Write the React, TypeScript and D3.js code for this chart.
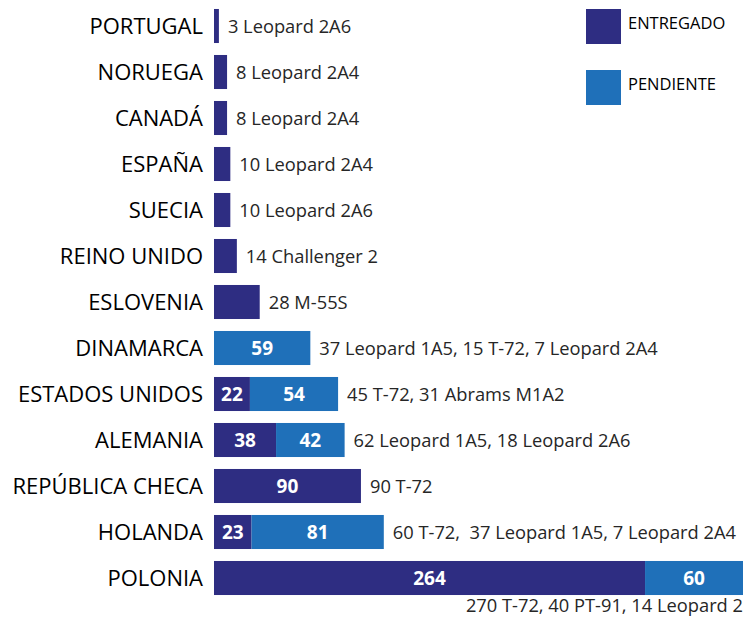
import * as d3 from 'd3';
import { useEffect, useRef } from 'react';

const countries = [
  'PORTUGAL',
  'NORUEGA',
  'CANADÁ',
  'ESPAÑA',
  'SUECIA',
  'REINO UNIDO',
  'ESLOVENIA',
  'DINAMARCA',
  'ESTADOS UNIDOS',
  'ALEMANIA',
  'REPÚBLICA CHECA',
  'HOLANDA',
  'POLONIA',
];
const entregado = [3, 8, 8, 10, 10, 14, 28, 0, 22, 38, 90, 23, 264];
const pendiente = [0, 0, 0, 0, 0, 0, 0, 59, 54, 42, 0, 81, 60];
const showInside = [false, false, false, false, false, false, false, true, true, true, true, true, true];
const notes = [
  '3 Leopard 2A6',
  '8 Leopard 2A4',
  '8 Leopard 2A4',
  '10 Leopard 2A4',
  '10 Leopard 2A6',
  '14 Challenger 2',
  '28 M-55S',
  '37 Leopard 1A5, 15 T-72, 7 Leopard 2A4',
  '45 T-72, 31 Abrams M1A2',
  '62 Leopard 1A5, 18 Leopard 2A6',
  '90 T-72',
  '60 T-72,  37 Leopard 1A5, 7 Leopard 2A4',
  '270 T-72, 40 PT-91, 14 Leopard 2',
];
const seriesNames = ['ENTREGADO', 'PENDIENTE'];
const colors = ['#2e2d82', '#1f70b9'];

const W = 747;
const H = 617;
const FONT = '"Open Sans", sans-serif';

export default function App() {
  const ref = useRef<SVGSVGElement>(null);

  useEffect(() => {
    const svg = d3.select(ref.current);
    svg.selectAll('*').remove();

    const x = d3.scaleLinear().domain([0, 324]).range([214, 743]);
    const y = d3
      .scaleBand()
      .domain(countries)
      .range([3, 3 + countries.length * 46])
      .paddingInner(0.26)
      .paddingOuter(0.13);

    const rows = countries.map((c, i) => ({
      c,
      i,
      segs: [
        { k: 0, x0: 0, x1: entregado[i], v: entregado[i] },
        { k: 1, x0: entregado[i], x1: entregado[i] + pendiente[i], v: pendiente[i] },
      ].filter((s) => s.v > 0),
    }));

    const g = svg.selectAll('g.row').data(rows).enter().append('g').attr('class', 'row');

    g.each(function (d) {
      const row = d3.select(this);
      row
        .selectAll('rect')
        .data(d.segs)
        .enter()
        .append('rect')
        .attr('x', (s) => x(s.x0))
        .attr('width', (s) => x(s.x1) - x(s.x0))
        .attr('y', y(d.c)!)
        .attr('height', y.bandwidth())
        .style('fill', (s) => colors[s.k]);

      // values inside bars
      if (!showInside[d.i]) return;
      row
        .selectAll('text.val')
        .data(d.segs)
        .enter()
        .append('text')
        .attr('class', 'val')
        .attr('x', (s) => (x(s.x0) + x(s.x1)) / 2)
        .attr('y', y(d.c)! + y.bandwidth() / 2)
        .attr('dy', '0.36em')
        .attr('text-anchor', 'middle')
        .style('font-family', FONT)
        .style('font-weight', 700)
        .style('font-size', '19px')
        .style('fill', '#fff')
        .text((s) => s.v);
    });

    // category labels
    svg
      .selectAll('text.cat')
      .data(countries)
      .enter()
      .append('text')
      .attr('class', 'cat')
      .attr('x', 203)
      .attr('y', (c) => y(c)! + y.bandwidth() / 2)
      .attr('dy', '0.36em')
      .attr('text-anchor', 'end')
      .style('font-family', FONT)
      .style('font-size', '22px')
      .style('fill', '#000')
      .text((c) => c);

    // notes (last one sits under its bar)
    const last = countries.length - 1;
    svg
      .selectAll('text.note')
      .data(rows)
      .enter()
      .append('text')
      .attr('class', 'note')
      .attr('x', (d) => (d.i === last ? x(324) : x(entregado[d.i] + pendiente[d.i]) + 9))
      .attr('y', (d) =>
        d.i === last ? y(d.c)! + y.bandwidth() + 10 : y(d.c)! + y.bandwidth() / 2
      )
      .attr('dy', '0.36em')
      .attr('text-anchor', (d) => (d.i === last ? 'end' : 'start'))
      .style('font-family', FONT)
      .style('font-size', '18.3px')
      .style('white-space', 'pre')
      .style('fill', '#262626')
      .text((d) => notes[d.i]);

    // legend
    const leg = svg
      .selectAll('g.leg')
      .data(seriesNames)
      .enter()
      .append('g')
      .attr('class', 'leg')
      .attr('transform', (_, i) => `translate(586, ${9 + i * 61})`);
    leg
      .append('rect')
      .attr('width', 35)
      .attr('height', 35)
      .style('fill', (_, i) => colors[i]);
    leg
      .append('text')
      .attr('x', 42)
      .attr('y', 14)
      .attr('dy', '0.36em')
      .style('font-family', FONT)
      .style('font-size', '16.5px')
      .style('fill', '#000')
      .text((d) => d);
  }, []);

  return (
    <svg
      ref={ref}
      width={W}
      height={H}
      style={{ position: 'absolute', left: 0, top: 0, background: '#fff' }}
    />
  );
}
